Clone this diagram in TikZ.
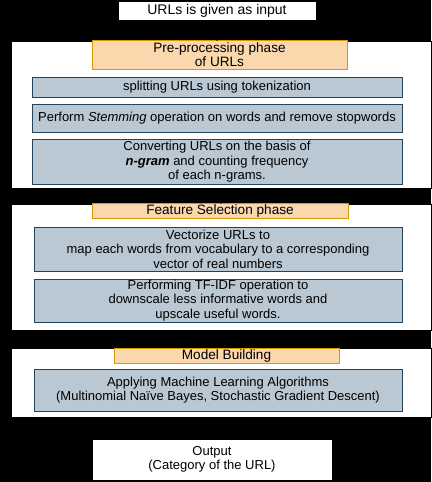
\documentclass[tikz,border=0pt]{standalone}
\usepackage{fontspec}
\setmainfont{Liberation Sans}
\definecolor{headfill}{HTML}{FAD7AC}
\definecolor{headline}{HTML}{D79B00}
\definecolor{taskfill}{HTML}{BAC8D3}
\definecolor{taskline}{HTML}{23445D}
\begin{document}
\begin{tikzpicture}[x=1pt,y=-1pt,font=\fontsize{13}{14.6}\selectfont,
  phase/.style={draw=black,fill=white,minimum width=420pt,inner sep=0pt},
  phasehead/.style={draw=headline,fill=headfill,line width=0.8pt,inner sep=0pt,align=center,font=\fontsize{13.6}{14.6}\selectfont},
  task/.style={draw=taskline,fill=taskfill,line width=0.8pt,inner sep=0pt,align=center},
  endbox/.style={draw=black,fill=white,inner sep=0pt,align=center}]
\fill[black] (0,0) rectangle (431,482);
\node[endbox,minimum width=198pt,minimum height=19pt,font=\fontsize{14}{15}\selectfont] (input) at (217,10.5) {URLs is given as input};
% pre-processing
\node[phase,minimum height=147pt] (pre) at (221,114.5) {};
\node[phasehead,minimum width=255pt,minimum height=29pt] (prehead) at (219.5,54.5) {Pre-processing phase\\of URLs};
\node[task,minimum width=370pt,minimum height=20pt] (split) at (217,87) {splitting URLs using tokenization};
\node[task,minimum width=370pt,minimum height=28pt] (stem) at (217,118) {Perform \textit{Stemming} operation on words and remove stopwords};
\node[task,minimum width=370pt,minimum height=45pt] (ngram) at (217,162) {Converting URLs on the basis of\\\textbf{\textit{n-gram}} and counting frequency\\of each n-grams.};
% feature selection
\node[phase,minimum height=126pt] (feat) at (221,267) {};
\node[phasehead,minimum width=256pt,minimum height=15pt] (feathead) at (220,210.5) {Feature Selection phase};
\node[task,minimum width=368pt,minimum height=44pt] (vect) at (218,249) {Vectorize URLs to\\map each words from vocabulary to a corresponding\\vector of real numbers};
\node[task,minimum width=368pt,minimum height=43pt] (tfidf) at (218,300.5) {Performing TF-IDF operation to\\downscale less informative words and\\upscale useful words.};
% model building
\node[phase,minimum height=69pt] (model) at (221,382.5) {};
\node[phasehead,minimum width=225pt,minimum height=15pt] (modelhead) at (226.5,355.5) {Model Building};
\node[task,minimum width=368pt,minimum height=42pt] (algo) at (218,390) {Applying Machine Learning Algorithms\\(Multinomial Naïve Bayes, Stochastic Gradient Descent)};
\node[endbox,minimum width=240pt,minimum height=41pt] (output) at (212,459.5) {Output\\(Category of the URL)};
\draw[->,black] (input) -- (input|-pre.north);
\draw[->,black] (pre) -- (feat);
\draw[->,black] (feat) -- (model);
\draw[->,black] (model.south-|output) -- (output);
\end{tikzpicture}
\end{document}
